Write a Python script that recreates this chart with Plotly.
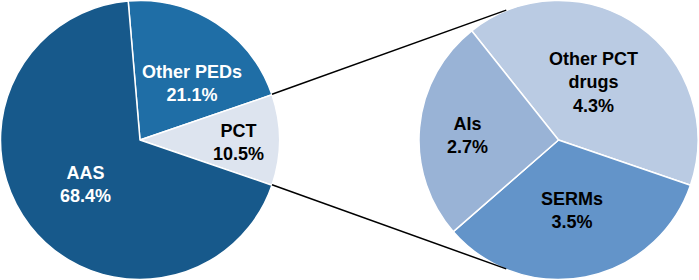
import math
import plotly.graph_objects as go

# ---- data ----
main_labels = ["Other PEDs", "PCT", "AAS"]
main_display = ["Other PEDs", "PCT", "AAS"]
main_values = [21.1, 10.5, 68.4]

pct_labels = ["Other PCT drugs", "SERMs", "AIs"]
pct_display = ["Other PCT<br>drugs", "SERMs", "AIs"]
pct_values = [4.3, 3.5, 2.7]

# ---- style ----
W, H = 699, 280
main_colors = ["#1f6ea6", "#dde4ef", "#17598b"]
main_text_colors = ["white", "black", "white"]
pct_colors = ["#bacbe3", "#6394c9", "#99b3d6"]
pct_text_colors = ["black", "black", "black"]

R = 139.5
left_c = (140, 139.5)
right_c = (558.5, 139.5)

# label placement tweaks: (radius fraction, angle offset in degrees)
main_label_pos = [(0.55, -10), (0.705, -2), (0.51, 1.5)]
pct_label_pos = [(0.48, 3.5), (0.52, 0), (0.655, 3)]

# rotation so that PCT slice is centered on 3 o'clock
pct_index = main_labels.index("PCT")
tot = sum(main_values)
cum_before = sum(main_values[:pct_index])
main_rot = 90 - 360 * (cum_before + main_values[pct_index] / 2) / tot
pct_rot = -38.5

fig = go.Figure()
fig.add_trace(go.Pie(
    labels=main_labels, values=main_values, sort=False, direction="clockwise",
    rotation=main_rot, textinfo="none", hoverinfo="label+value",
    marker=dict(colors=main_colors, line=dict(color="white", width=1.5)),
    domain=dict(x=[(left_c[0] - R) / W, (left_c[0] + R) / W], y=[0, 1]),
    showlegend=False,
))
fig.add_trace(go.Pie(
    labels=pct_labels, values=pct_values, sort=False, direction="clockwise",
    rotation=pct_rot, textinfo="none", hoverinfo="label+value",
    marker=dict(colors=pct_colors, line=dict(color="white", width=1.5)),
    domain=dict(x=[(right_c[0] - R) / W, (right_c[0] + R) / W], y=[0, 1]),
    showlegend=False,
))


def add_labels(values, disp, rot, center, posinfo, tcolors):
    total = sum(values)
    cum = 0
    for v, d, (rf, da), tc in zip(values, disp, posinfo, tcolors):
        mid_compass = rot + 360 * (cum + v / 2) / total
        ang = math.radians(90 - mid_compass + da)
        px = center[0] + rf * R * math.cos(ang)
        py = (H - center[1]) + rf * R * math.sin(ang)
        fig.add_annotation(
            x=px / W, y=py / H, xref="paper", yref="paper", showarrow=False,
            xanchor="center", yanchor="middle",
            text=f"{d}<br>{v:.1f}%", align="center",
            font=dict(family="Arial, Liberation Sans, sans-serif", size=18,
                      color=tc, weight="bold"),
        )
        cum += v


add_labels(main_values, main_display, main_rot, left_c, main_label_pos, main_text_colors)
add_labels(pct_values, pct_display, pct_rot, right_c, pct_label_pos, pct_text_colors)

# connector lines from PCT slice edges to the right pie
half = 360 * main_values[pct_index] / tot / 2
conn_ang = 112
for s in (1, -1):
    a1 = math.radians(s * half)
    x0 = left_c[0] + R * math.cos(a1)
    y0 = (H - left_c[1]) + R * math.sin(a1)
    a2 = math.radians(s * conn_ang)
    x1 = right_c[0] + R * math.cos(a2)
    y1 = (H - right_c[1]) + R * math.sin(a2)
    fig.add_shape(type="line", xref="paper", yref="paper",
                  x0=x0 / W, y0=y0 / H, x1=x1 / W, y1=y1 / H,
                  line=dict(color="black", width=1.5))

fig.update_layout(
    width=W, height=H, margin=dict(l=0, r=0, t=0, b=0),
    paper_bgcolor="white", plot_bgcolor="white",
)
fig.write_html("out.html", config={"displayModeBar": False},
               post_script="document.body.style.margin='0';document.body.style.overflow='hidden';")
